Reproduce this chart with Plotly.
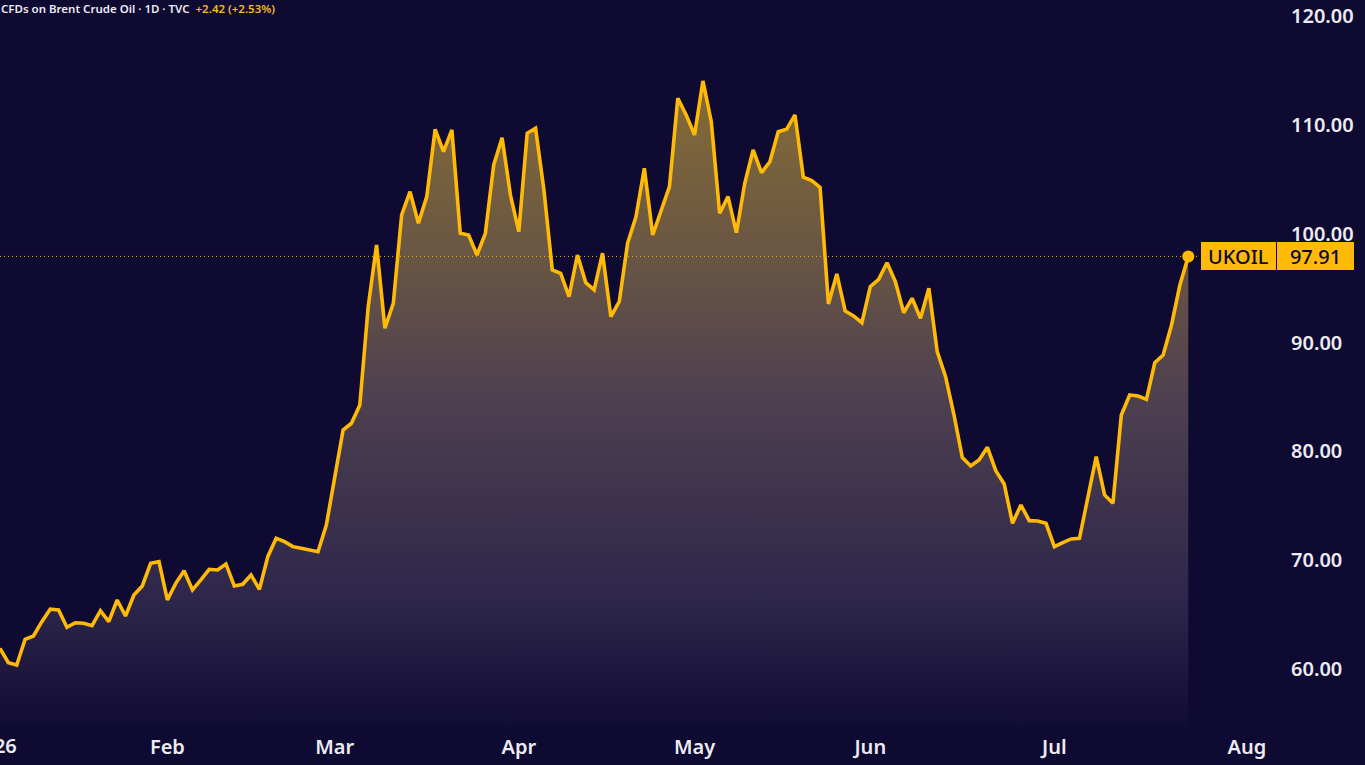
import plotly.graph_objects as go
import pandas as pd

# ---------------- data ----------------
title_text = "CFDs on Brent Crude Oil · 1D · TVC"
change_text = "+2.42 (+2.53%)"
symbol = "UKOIL"

first_date = "2026-01-05"
market_holidays = ["2026-04-03"]

prices = [
    61.90, 60.58, 60.37, 62.73, 63.03, 64.35, 65.49, 65.42, 63.83, 64.25,
    64.20, 63.98, 65.36, 64.35, 66.34, 64.87, 66.80, 67.63, 69.71, 69.86,
    66.34, 67.87, 69.03, 67.26, 68.18, 69.16, 69.10, 69.65, 67.63, 67.78,
    68.64, 67.32, 70.32, 72.01, 71.70, 71.24, 71.09, 70.93, 70.78, 73.23,
    77.64, 81.96, 82.58, 84.26, 93.29, 98.96, 91.31, 93.60, 101.72, 103.86,
    100.95, 103.40, 109.59, 107.53, 109.53, 100.03, 99.88, 98.04, 100.03, 106.31,
    108.82, 103.55, 100.18, 109.22, 109.68, 104.01, 96.66, 96.36, 94.21, 98.04,
    95.50, 94.83, 98.20, 92.37, 93.75, 99.12, 101.56, 106.01, 99.88, 102.02,
    104.32, 112.44, 110.91, 109.07, 114.03, 110.29, 101.87, 103.40, 100.09, 104.63,
    107.69, 105.60, 106.61, 109.37, 109.59, 110.91, 105.18, 104.87, 104.26, 93.54,
    96.30, 92.90, 92.44, 91.82, 95.13, 95.81, 97.33, 95.59, 92.74, 94.06,
    92.22, 94.98, 89.16, 86.86, 83.34, 79.42, 78.65, 79.20, 80.37, 78.22,
    77.00, 73.39, 75.07, 73.63, 73.60, 73.39, 71.24, 71.61, 71.95, 72.01,
    75.83, 79.51, 75.99, 75.23, 83.34, 85.18, 85.08, 84.78, 88.14, 88.85,
    91.61, 95.28, 97.91,
]

month_ticks = ["2026-02-02", "2026-03-02", "2026-04-01", "2026-05-01",
               "2026-06-01", "2026-07-01", "2026-08-03"]
month_labels = ["Feb", "Mar", "Apr", "May", "Jun", "Jul", "Aug"]
year_label = "2026"

price_ticks = [60, 70, 80, 90, 100, 110, 120]

dates = pd.bdate_range(start=first_date, periods=len(prices), freq="C",
                       holidays=market_holidays)

# ---------------- style ----------------
BG = "#0e0a31"
YEL = "#FFBA08"
TXT = "#ecebf2"
FONT = "Noto Sans"

W, H = 1365, 765
PLOT_R = 1284   # right edge of plot area (px)
PLOT_B = 727    # bottom edge of plot area (px)

def px_x(p):
    return p / PLOT_R

def px_y(p):
    return (PLOT_B - p) / PLOT_B

last_price = prices[-1]

fig = go.Figure()
fig.add_trace(go.Scatter(
    x=dates, y=prices, mode="lines",
    line=dict(color=YEL, width=3.6),
    fill="tozeroy",
    fillgradient=dict(
        type="vertical", start=55, stop=114,
        colorscale=[
            [0.0, "rgb(18,13,52)"],
            [0.186, "rgb(45,38,75)"],
            [0.508, "rgb(78,64,80)"],
            [0.729, "rgb(105,86,68)"],
            [1.0, "rgb(134,107,54)"],
        ],
    ),
    hoverinfo="skip",
))
fig.add_trace(go.Scatter(
    x=[dates[-1]], y=[last_price], mode="markers",
    marker=dict(size=12, color=YEL, line=dict(width=0)),
    hoverinfo="skip",
))

fig.add_shape(type="line", xref="paper", yref="y",
              x0=0, x1=px_x(1200), y0=last_price, y1=last_price,
              line=dict(color=YEL, width=1, dash="1px,3px"), layer="above")

annotations = [
    dict(xref="paper", yref="paper", x=px_x(-1), y=px_y(9),
         xanchor="left", yanchor="middle", showarrow=False,
         text=title_text + "\u00a0\u00a0" +
              "<span style='color:#f5b830'>" + change_text + "</span>",
         font=dict(family=FONT, size=11.5, color=TXT, weight=600)),
    dict(xref="paper", yref="paper", x=px_x(18.5), y=px_y(745),
         xanchor="right", yanchor="middle", showarrow=False,
         text=year_label, font=dict(family=FONT, size=20, color=TXT, weight=600)),
    dict(xref="paper", yref="y", x=px_x(1201), y=last_price,
         xanchor="left", yanchor="middle", showarrow=False,
         text=symbol, bgcolor=YEL, borderwidth=0, borderpad=0,
         width=75, height=28, align="center",
         font=dict(family=FONT, size=20, color=BG, weight=500)),
    dict(xref="paper", yref="y", x=px_x(1277), y=last_price,
         xanchor="left", yanchor="middle", showarrow=False,
         text=f"{last_price:.2f}", bgcolor=YEL, borderwidth=0, borderpad=0,
         width=77, height=28, align="center",
         font=dict(family=FONT, size=20, color=BG, weight=500)),
]

fig.update_layout(
    width=W, height=H,
    margin=dict(l=0, r=W - PLOT_R, t=0, b=H - PLOT_B, pad=0),
    paper_bgcolor=BG, plot_bgcolor=BG,
    showlegend=False,
    annotations=annotations,
    xaxis=dict(
        type="date",
        range=[dates[0], "2026-08-07 10:34"],
        rangebreaks=[dict(bounds=["sat", "mon"]), dict(values=market_holidays)],
        tickmode="array", tickvals=month_ticks, ticktext=month_labels,
        showgrid=False, zeroline=False, showline=False, ticks="",
        tickfont=dict(family=FONT, size=20, color=TXT, weight=600),
        ticklabelstandoff=6,
        automargin=False, fixedrange=True,
    ),
    yaxis=dict(
        range=[54.67, 121.47], side="right",
        tickmode="array", tickvals=price_ticks,
        ticktext=[f"{v:.2f}" for v in price_ticks],
        showgrid=False, zeroline=False, showline=False, ticks="",
        tickfont=dict(family=FONT, size=20, color=TXT, weight=600),
        ticklabelstandoff=6,
        automargin=False, fixedrange=True,
    ),
)

fig.write_html("out.html")
